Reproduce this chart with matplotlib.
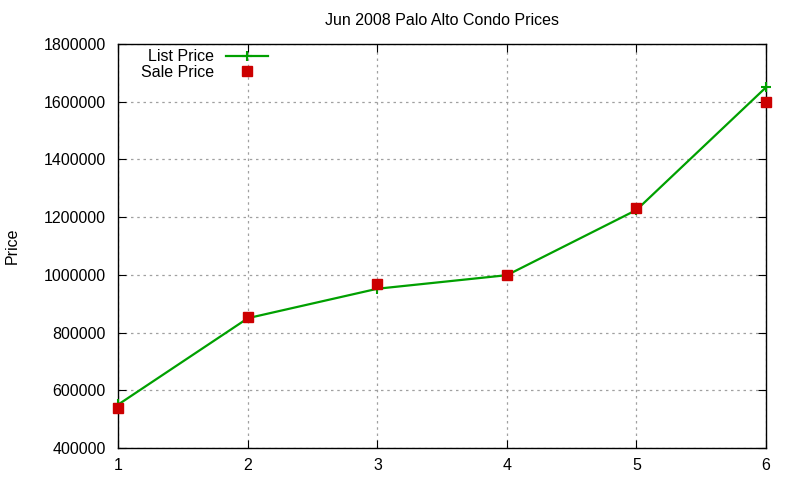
import numpy as np
import matplotlib.pyplot as plt

plt.rcParams['font.family'] = ['Liberation Sans', 'DejaVu Sans']

# data
x = [1, 2, 3, 4, 5, 6]
list_price = [551000, 850000, 952000, 999000, 1225000, 1650000]
sale_price = [538000, 853000, 967000, 998000, 1232000, 1600000]
yticks = np.arange(400000, 1800001, 200000)

fig = plt.figure(figsize=(8, 4.8), dpi=100)
ax = fig.add_axes([0.148, 0.0667, 0.8095, 0.8415])

ax.plot(x, list_price, color='#00a000', lw=1.6, marker='+', ms=7, mew=1.5,
        label='List Price', zorder=3, clip_on=False)
ax.plot(x, sale_price, ls='none', marker='s', ms=6.5, color='#cc0000',
        label='Sale Price', zorder=4, clip_on=False)

ax.set_xlim(1, 6)
ax.set_ylim(400000, 1800000)
ax.set_xticks(x)
ax.set_yticks(yticks)
ax.set_yticklabels([str(v) for v in yticks])
ax.grid(True, color='#a0a0a0', ls=(0, (2, 3)), lw=0.9)
ax.tick_params(direction='in', top=True, right=True, labelsize=11.5, length=6)
ax.tick_params(axis='y', pad=9)
ax.tick_params(axis='x', pad=7)
for s in ax.spines.values():
    s.set_linewidth(1.0)

ax.set_title('Jun 2008 Palo Alto Condo Prices', fontsize=11.5, pad=14)
ax.set_ylabel('Price', fontsize=11.5)
ax.yaxis.set_label_coords(-0.153, 0.5)

leg = ax.legend(loc='upper left', bbox_to_anchor=(0.017, 1.015), frameon=False,
                markerfirst=False, fontsize=11.5, handlelength=2.6,
                labelspacing=0.05, borderaxespad=0.3)
for t in leg.get_texts():
    t.set_ha('right')

fig.savefig('out.png', dpi=100)
